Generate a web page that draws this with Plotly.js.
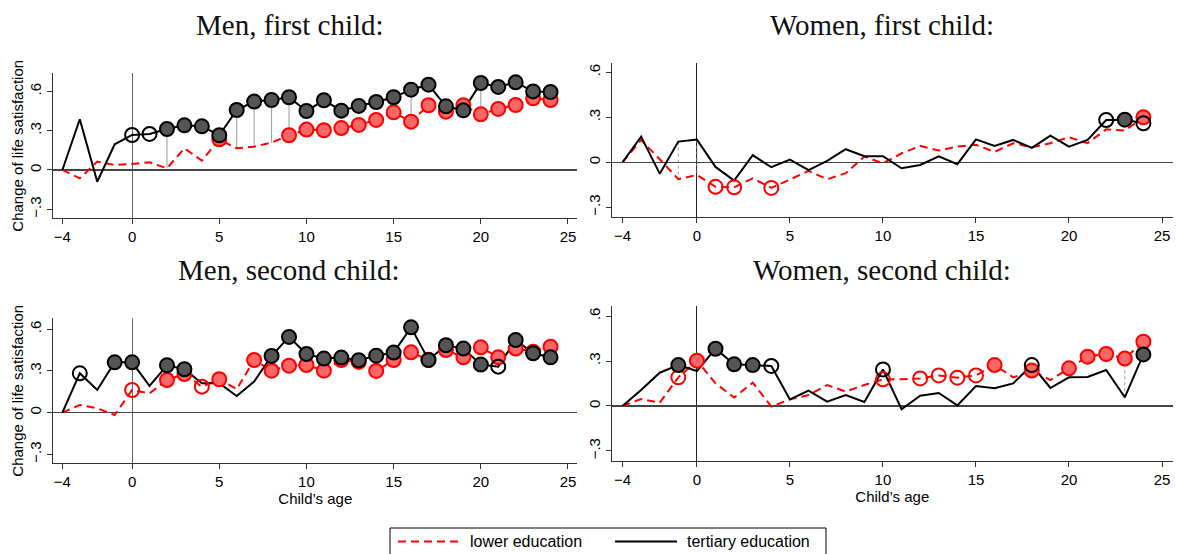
<!DOCTYPE html>
<html><head><meta charset="utf-8">
<script src="https://cdn.plot.ly/plotly-3.0.1.min.js"></script>
<style>html,body{margin:0;padding:0;background:#fff}#chart{width:1177px;height:554px}</style>
</head><body><div id="chart"></div>
<script>
// ---------- data ----------
const ages = [-4,-3,-2,-1,0,1,2,3,4,5,6,7,8,9,10,11,12,13,14,15,16,17,18,19,20,21,22,23,24];
const xTickVals = [-4,0,5,10,15,20,25];
const xTickText = ['\u22124','0','5','10','15','20','25'];
const yTickVals = [-0.3,0,0.3,0.6];
const yTickText = ['\u2212.3','0','.3','.6'];
const panelTitles = ['Men, first child:','Women, first child:','Men, second child:','Women, second child:'];
const seriesNames = ['lower education','tertiary education'];
const yTitle = 'Change of life satisfaction';
const xTitle = 'Child\u2019s age';

// significance codes: 0 = no marker, 1 = open circle, 2 = filled circle
const men1Lower  = [0,-0.064,0.064,0.038,0.046,0.058,0.013,0.165,0.071,0.234,0.165,0.178,0.209,0.265,0.308,0.303,0.32,0.344,0.382,0.44,0.369,0.494,0.445,0.494,0.425,0.466,0.496,0.547,0.534];
const men1LowerSig = [0,0,0,0,0,0,0,0,0,2,0,0,0,2,2,2,2,2,2,2,2,2,2,2,2,2,2,2,2];
const men1Tert   = [0,0.387,-0.09,0.196,0.267,0.275,0.313,0.341,0.333,0.265,0.458,0.522,0.534,0.555,0.45,0.532,0.453,0.489,0.519,0.555,0.613,0.651,0.486,0.455,0.664,0.634,0.669,0.60,0.595];
const men1TertSig = [0,0,0,0,1,1,2,2,2,2,2,2,2,2,2,2,2,2,2,2,2,2,2,2,2,2,2,2,2];
const men1Gaps = [2,6,7,8,9,16,20];

const women1Lower = [0,0.149,0.02,-0.113,-0.084,-0.164,-0.167,-0.107,-0.171,-0.113,-0.058,-0.113,-0.073,0.038,-0.007,0.06,0.109,0.078,0.104,0.116,0.069,0.127,0.1,0.127,0.167,0.127,0.22,0.211,0.30];
const women1LowerSig = [0,0,0,0,0,1,1,0,1,0,0,0,0,0,0,0,0,0,0,0,0,0,0,0,0,0,0,0,2];
const women1Tert  = [0,0.171,-0.076,0.138,0.151,-0.031,-0.122,0.047,-0.033,0.018,-0.053,0.009,0.087,0.04,0.04,-0.04,-0.018,0.04,-0.013,0.153,0.109,0.149,0.096,0.178,0.104,0.149,0.282,0.284,0.26];
const women1TertSig = [0,0,0,0,0,0,0,0,0,0,0,0,0,0,0,0,0,0,0,0,0,0,0,0,0,0,1,2,1];
const women1Gaps = [-1,0];

const men2Lower = [0,0.055,0.031,-0.017,0.163,0.139,0.235,0.278,0.187,0.24,0.168,0.379,0.302,0.338,0.343,0.302,0.379,0.365,0.3,0.379,0.434,0.38,0.451,0.398,0.47,0.398,0.461,0.439,0.475];
const men2LowerSig = [0,0,0,0,1,0,2,2,1,2,0,2,2,2,2,2,2,2,2,2,2,2,2,2,2,2,2,2,2];
const men2Tert  = [0,0.283,0.163,0.362,0.362,0.192,0.341,0.312,0.211,0.211,0.12,0.223,0.408,0.545,0.422,0.389,0.396,0.377,0.41,0.432,0.614,0.379,0.485,0.461,0.346,0.331,0.523,0.427,0.398];
const men2TertSig = [0,1,0,2,2,0,2,2,0,0,0,0,2,2,2,2,2,2,2,2,2,2,2,2,2,1,2,2,2];
const men2Gaps = [];

const women2Lower = [0,0.047,0.022,0.191,0.302,0.151,0.056,0.156,-0.004,0.044,0.073,0.14,0.096,0.14,0.178,0.178,0.184,0.204,0.189,0.204,0.273,0.191,0.236,0.173,0.251,0.329,0.347,0.316,0.429];
const women2LowerSig = [0,0,0,1,2,0,0,0,0,0,0,0,0,0,1,0,1,1,1,1,2,0,2,0,2,2,2,2,2];
const women2Tert  = [0,0.107,0.222,0.273,0.233,0.382,0.278,0.273,0.267,0.044,0.102,0.029,0.073,0.027,0.244,-0.022,0.069,0.087,0.004,0.133,0.118,0.151,0.273,0.12,0.191,0.193,0.24,0.058,0.344];
const women2TertSig = [0,0,0,2,0,2,2,2,1,0,0,0,0,0,1,0,0,0,0,0,0,0,1,0,0,0,0,0,2];
const women2Gaps = [23];

// ---------- styling / layout ----------
const W = 1177, H = 554;
const px = v => v / W, py = v => 1 - v / H;
const RED = '#ff0000', RED_FILL = '#ff6666', BLK = '#000000', GREY_FILL = '#555555';
const panels = [
  {lower: men1Lower, lowerSig: men1LowerSig, tert: men1Tert, tertSig: men1TertSig, gaps: men1Gaps, gapDash: 'solid',
   xd: [53.3, 577.4], yd: [73.3, 218.3], xr: [-4.52, 25.54], yr: [-0.369, 0.738], ytitle: true, xtitle: false, vcol: '#666'},
  {lower: women1Lower, lowerSig: women1LowerSig, tert: women1Tert, tertSig: women1TertSig, gaps: women1Gaps, gapDash: 'dot',
   xd: [612, 1172.6], yd: [62.7, 217.3], xr: [-4.565, 25.57], yr: [-0.367, 0.664], ytitle: false, xtitle: false, vcol: '#222'},
  {lower: men2Lower, lowerSig: men2LowerSig, tert: men2Tert, tertSig: men2TertSig, gaps: men2Gaps, gapDash: 'solid',
   xd: [53.3, 577.4], yd: [318.3, 463.3], xr: [-4.52, 25.54], yr: [-0.365, 0.679], ytitle: true, xtitle: true, vcol: '#666'},
  {lower: women2Lower, lowerSig: women2LowerSig, tert: women2Tert, tertSig: women2TertSig, gaps: women2Gaps, gapDash: 'dot',
   xd: [612, 1172.6], yd: [306, 461], xr: [-4.565, 25.57], yr: [-0.367, 0.667], ytitle: false, xtitle: true, vcol: '#222'}
];
const titlePos = [[290, 25], [882, 25], [288, 270], [882, 270]];

const traces = [];
const layout = {
  width: W, height: H, margin: {l: 0, r: 0, t: 0, b: 0},
  paper_bgcolor: '#fff', plot_bgcolor: '#fff', showlegend: false,
  font: {family: 'Liberation Sans, Arial, sans-serif', size: 15, color: '#000'},
  annotations: [], shapes: []
};

const pick = (arr, sig, code) => arr.filter((v, i) => sig[i] === code);

panels.forEach((p, k) => {
  const n = k === 0 ? '' : String(k + 1);
  const xa = 'x' + n, ya = 'y' + n;
  if (p.gaps.length) {
    const gx = [], gy = [];
    p.gaps.forEach(a => { const i = ages.indexOf(a); gx.push(a, a, null); gy.push(p.tert[i], p.lower[i], null); });
    traces.push({x: gx, y: gy, xaxis: xa, yaxis: ya, mode: 'lines', hoverinfo: 'skip',
      line: {color: '#9a9a9a', width: 1, dash: p.gapDash}});
  }
  traces.push({x: ages, y: p.lower, xaxis: xa, yaxis: ya, mode: 'lines', name: seriesNames[0],
    line: {color: RED, width: 2, dash: '8px,5px'}});
  traces.push({x: ages, y: p.tert, xaxis: xa, yaxis: ya, mode: 'lines', name: seriesNames[1],
    line: {color: BLK, width: 2}});
  traces.push({x: pick(ages, p.lowerSig, 2), y: pick(p.lower, p.lowerSig, 2), xaxis: xa, yaxis: ya, mode: 'markers',
    marker: {symbol: 'circle', size: 14, color: RED_FILL, line: {color: RED, width: 2}}});
  traces.push({x: pick(ages, p.lowerSig, 1), y: pick(p.lower, p.lowerSig, 1), xaxis: xa, yaxis: ya, mode: 'markers',
    marker: {symbol: 'circle-open', size: 14, color: RED, line: {color: RED, width: 2}}});
  traces.push({x: pick(ages, p.tertSig, 2), y: pick(p.tert, p.tertSig, 2), xaxis: xa, yaxis: ya, mode: 'markers',
    marker: {symbol: 'circle', size: 14, color: GREY_FILL, line: {color: BLK, width: 2}}});
  traces.push({x: pick(ages, p.tertSig, 1), y: pick(p.tert, p.tertSig, 1), xaxis: xa, yaxis: ya, mode: 'markers',
    marker: {symbol: 'circle-open', size: 14, color: BLK, line: {color: BLK, width: 2}}});

  const axCommon = {showline: true, linecolor: '#333', linewidth: 1, ticks: 'outside', ticklen: 5, tickcolor: '#333',
    showgrid: false, tickfont: {size: 15, color: '#000'}};
  layout['xaxis' + n] = Object.assign({}, axCommon, {
    domain: [px(p.xd[0]), px(p.xd[1])], range: p.xr, anchor: ya,
    tickvals: xTickVals, ticktext: xTickText,
    zeroline: true, zerolinecolor: p.vcol, zerolinewidth: 1,
    title: p.xtitle ? {text: xTitle, font: {size: 15}, standoff: 2} : {text: ''}
  });
  layout['yaxis' + n] = Object.assign({}, axCommon, {
    domain: [py(p.yd[1]), py(p.yd[0])], range: p.yr, anchor: xa,
    tickvals: yTickVals, ticktext: yTickText, tickangle: -90,
    zeroline: true, zerolinecolor: '#444', zerolinewidth: 1.3,
    title: p.ytitle ? {text: yTitle, font: {size: 15}, standoff: 0} : {text: ''}
  });
  layout.annotations.push({text: panelTitles[k], xref: 'paper', yref: 'paper', x: px(titlePos[k][0]), y: py(titlePos[k][1]),
    xanchor: 'center', yanchor: 'middle', showarrow: false,
    font: {family: 'Liberation Serif, Times New Roman, serif', size: 29, color: '#111'}});
});

// legend box (drawn)
layout.shapes.push({type: 'rect', xref: 'paper', yref: 'paper', x0: px(390), x1: px(826), y0: py(560), y1: py(528),
  line: {color: '#000', width: 1}, fillcolor: 'rgba(0,0,0,0)'});
layout.shapes.push({type: 'line', xref: 'paper', yref: 'paper', x0: px(398), x1: px(460), y0: py(541.5), y1: py(541.5),
  line: {color: RED, width: 2, dash: '8px,5px'}});
layout.shapes.push({type: 'line', xref: 'paper', yref: 'paper', x0: px(615), x1: px(677), y0: py(541.5), y1: py(541.5),
  line: {color: BLK, width: 2}});
layout.annotations.push({text: seriesNames[0], xref: 'paper', yref: 'paper', x: px(468), y: py(541.5),
  xanchor: 'left', yanchor: 'middle', showarrow: false, font: {size: 16}});
layout.annotations.push({text: seriesNames[1], xref: 'paper', yref: 'paper', x: px(685), y: py(541.5),
  xanchor: 'left', yanchor: 'middle', showarrow: false, font: {size: 16}});

Plotly.newPlot('chart', traces, layout, {staticPlot: true, displayModeBar: false});
</script>
</body></html>
